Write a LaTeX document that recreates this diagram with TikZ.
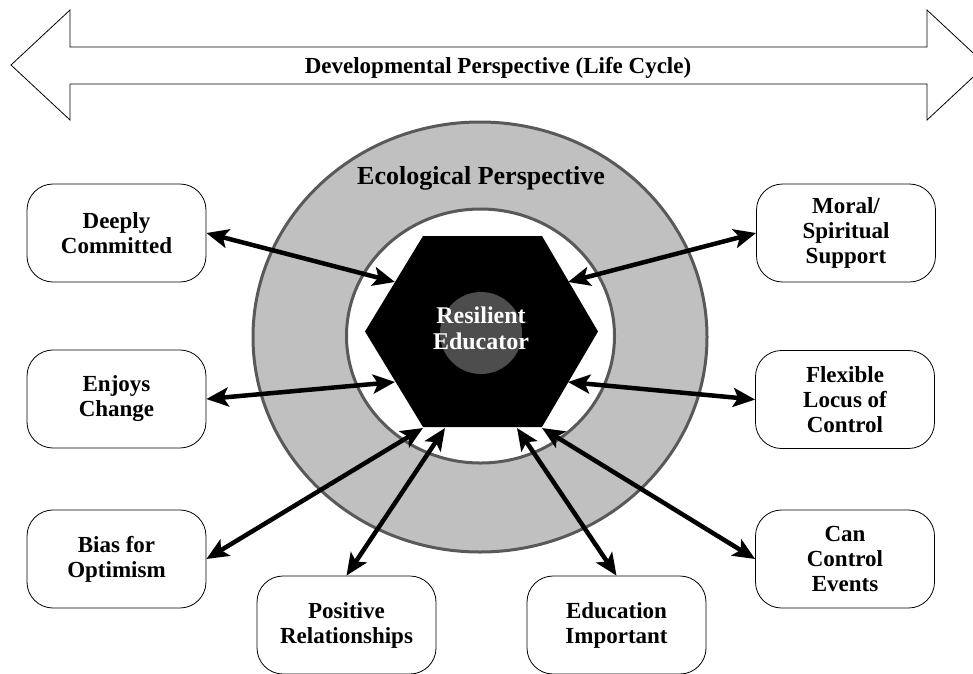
\documentclass[tikz,border=0pt]{standalone}
\usepackage{fontspec}
\setmainfont{Liberation Serif}
\usetikzlibrary{arrows.meta}
\definecolor{ringgray}{HTML}{C0C0C0}
\definecolor{ringedge}{HTML}{595959}
\definecolor{coregray}{HTML}{4D4D4D}
\begin{document}
\begin{tikzpicture}[x=1pt,y=-1pt,
  itembox/.style={draw=black, line width=0.8pt, rounded corners=26pt, minimum width=179pt, minimum height=98pt, inner sep=0pt, align=center, font=\fontsize{23}{25}\selectfont\bfseries, fill=white},
  dblarrow/.style={line width=4.5pt, >={Stealth[length=22pt,width=19pt,inset=5pt]}, <->},
  bigtext/.style={font=\fontsize{23}{26}\selectfont\bfseries}
]
\useasboundingbox (0,0) rectangle (973,673);
\begin{scope}
  \clip (0,0) rectangle (973,673);
  \draw[line width=0.8pt, fill=white] (11,65) -- (70,10) -- (70,47) -- (927,47) -- (927,10) -- (986,65) -- (927,120) -- (927,84) -- (70,84) -- (70,120) -- cycle;
\end{scope}
\node[anchor=base, bigtext] (title) at (498,73) {Developmental Perspective (Life Cycle)};

% rings
\draw[ringedge, line width=3pt, fill=ringgray] (480,337) ellipse [x radius=227, y radius=215];
\draw[ringedge, line width=3pt, fill=white] (480.5,336) ellipse [x radius=134, y radius=127];
\node[anchor=base, font=\fontsize{26}{30}\selectfont\bfseries] (eco) at (481,184) {Ecological Perspective};

% hexagon
\fill[black] (365,331.5) -- (423,236) -- (542,236) -- (598,331.5) -- (542,427) -- (423,427) -- cycle;
\fill[coregray] (481,333) circle [radius=41];
\node[text=white, align=center, font=\fontsize{24}{26}\selectfont\bfseries] (core) at (481,328) {Resilient\\Educator};

% boxes
\node[itembox] (dc) at (116.5,233) {Deeply\\Committed};
\node[itembox] (ec) at (116.5,399) {Enjoys\\Change};
\node[itembox] (bo) at (116.5,559) {Bias for\\Optimism};
\node[itembox] (pr) at (346.5,625) {Positive\\Relationships};
\node[itembox] (ei) at (616.5,625) {Education\\Important};
\node[itembox] (ms) at (846,233) {Moral/\\Spiritual\\Support};
\node[itembox] (fl) at (845,399.5) {Flexible\\Locus of\\Control};
\node[itembox] (cc) at (845,559) {Can\\Control\\Events};

% hexagon contact points
\coordinate (hdc) at (395,282);
\coordinate (hec) at (395,382);
\coordinate (hms) at (568,282);
\coordinate (hfl) at (568,382);
\coordinate (hcc) at (542,428);
\coordinate (hei) at (517,428);
\coordinate (hpr) at (445,428);
\coordinate (hbo) at (423,428);

\draw[dblarrow] (dc.east) -- (hdc);
\draw[dblarrow] (ec.east) -- (hec);
\draw[dblarrow] (bo.east) -- (hbo);
\draw[dblarrow] (pr.north) -- (hpr);
\draw[dblarrow] (ei.north) -- (hei);
\draw[dblarrow] (ms.west) -- (hms);
\draw[dblarrow] (fl.west) -- (hfl);
\draw[dblarrow] (cc.west) -- (hcc);
\end{tikzpicture}
\end{document}
